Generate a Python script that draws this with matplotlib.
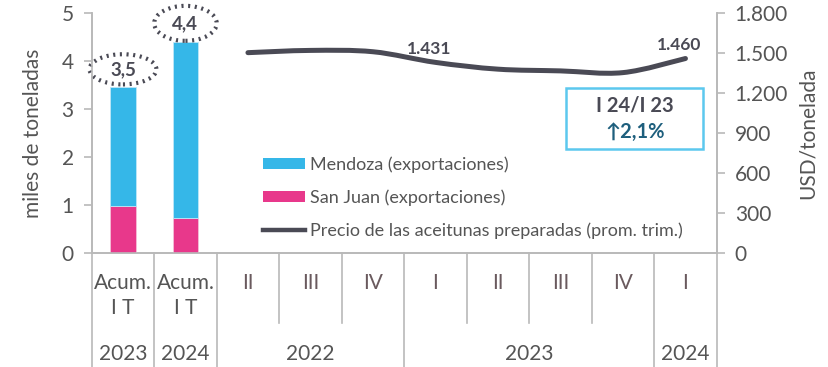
import matplotlib
matplotlib.use("Agg")
import matplotlib.pyplot as plt
from matplotlib.patches import Patch, Ellipse, Rectangle, PathPatch
from matplotlib.lines import Line2D
from matplotlib.path import Path
import matplotlib.transforms as mtransforms

# ---- data ----
categories = ["Acum.\nI T", "Acum.\nI T", "II", "III", "IV", "I", "II", "III", "IV", "I"]
years = ["2023", "2024", "2022", "2023", "2024"]
mendoza = [2.50, 3.68]          # miles de toneladas
san_juan = [0.97, 0.72]         # miles de toneladas
bar_totals = ["3,5", "4,4"]
price = [1504, 1521, 1511, 1431, 1380, 1367, 1354, 1460]   # USD/tonelada, II-22 .. I-24
price_labels = {3: "1.431", 7: "1.460"}
variation_title = "I 24/I 23"
variation_text = "↑2,1%"

# ---- style ----
plt.rcParams["font.family"] = ["Lato", "DejaVu Sans"]
C_BLUE = "#35b7e8"
C_PINK = "#e8388b"
C_LINE = "#4a4a55"
C_AXIS = "#b9b9b9"
C_TXT = "#555555"
C_BOX = "#5cc8ee"
C_TEAL = "#1e5f7d"
FS = 15

W, H = 829, 367
fig = plt.figure(figsize=(W / 100, H / 100), dpi=100)
x0, x1 = 91.7, 716.7
y0, y1 = 252.7, 13.3
ax = fig.add_axes([x0 / W, 1 - y0 / H, (x1 - x0) / W, (y0 - y1) / H])
ax2 = ax.twinx()

# stacked bars
bar_x = [0, 1]
ax.bar(bar_x, san_juan, width=0.41, color=C_PINK, edgecolor="#f3c0d8", linewidth=0.6, zorder=3)
ax.bar(bar_x, mendoza, width=0.41, bottom=san_juan, color=C_BLUE, edgecolor="#bfe6f7",
       linewidth=0.6, zorder=3)

ax.set_xlim(-0.5, 9.5)
ax.set_ylim(0, 5)
ax.set_yticks(range(0, 6))
ax.set_xticks([])
ax2.set_ylim(0, 1800)
ax2.set_yticks(range(0, 1801, 300))
ax2.set_yticklabels([f"{v:,}".replace(",", ".") for v in range(0, 1801, 300)])

for a in (ax, ax2):
    a.spines["top"].set_visible(False)
    for s in ("left", "right", "bottom"):
        a.spines[s].set_color(C_AXIS)
        a.spines[s].set_linewidth(1.2)
    a.tick_params(axis="y", direction="out", length=6, width=1.2, color=C_AXIS,
                  labelsize=FS, labelcolor=C_TXT, pad=7)
ax.set_ylabel("miles de toneladas", fontsize=FS, color=C_TXT, labelpad=13)
ax2.set_ylabel("USD/tonelada", fontsize=FS, color=C_TXT, labelpad=7)

# smooth price curve (Catmull-Rom through the quarterly points)
px = list(range(2, 2 + len(price)))
pts = list(zip(px, price))
verts = [pts[0]]
codes = [Path.MOVETO]
for i in range(len(pts) - 1):
    p0 = pts[i - 1] if i > 0 else pts[i]
    p1, p2 = pts[i], pts[i + 1]
    p3 = pts[i + 2] if i + 2 < len(pts) else pts[i + 1]
    c1 = (p1[0] + (p2[0] - p0[0]) / 6, p1[1] + (p2[1] - p0[1]) / 6)
    c2 = (p2[0] - (p3[0] - p1[0]) / 6, p2[1] - (p3[1] - p1[1]) / 6)
    verts += [c1, c2, p2]
    codes += [Path.CURVE4] * 3
ax2.add_patch(PathPatch(Path(verts, codes), facecolor="none", edgecolor=C_LINE,
                        linewidth=3.6, capstyle="round", zorder=4))
for i, lab in price_labels.items():
    ax2.text(px[i] - 0.1, price[i] + 40, lab, ha="center", va="bottom", fontsize=12.5,
             fontweight="bold", color=C_LINE, zorder=5)

# dotted ellipses with bar totals
ell_sizes = [(1.07, 0.63), (1.0, 0.73)]
ell_gap = [0.36, 0.39]
for i, (lab, (ew, eh)) in enumerate(zip(bar_totals, ell_sizes)):
    top = mendoza[i] + san_juan[i]
    yc = top + ell_gap[i]
    ax.add_patch(Ellipse((bar_x[i], yc), ew, eh, facecolor="white", edgecolor=C_LINE,
                         linestyle=(0, (0.5, 1.1)), linewidth=3.0, clip_on=False, zorder=5))
    ax.text(bar_x[i], yc, lab, ha="center", va="center", fontsize=13.5, fontweight="bold",
            color=C_LINE, zorder=6)

# variation box
ax.add_patch(Rectangle((7.09, 2.165), 2.19, 1.275, facecolor="white", edgecolor=C_BOX,
                       linewidth=1.8, zorder=5))
ax.text(8.19, 3.07, variation_title, ha="center", va="center", fontsize=14.5,
        fontweight="bold", color=C_LINE, zorder=6)
ax.text(8.19, 2.53, variation_text, ha="center", va="center", fontsize=14.5,
        fontweight="bold", color=C_TEAL, zorder=6)

# legend
handles = [Patch(facecolor=C_BLUE, edgecolor="none"),
           Patch(facecolor=C_PINK, edgecolor="none"),
           Line2D([], [], color=C_LINE, linewidth=3.2)]
labels = ["Mendoza (exportaciones)", "San Juan (exportaciones)",
          "Precio de las aceitunas preparadas (prom. trim.)"]
leg = fig.legend(handles, labels, loc="upper left", bbox_to_anchor=(256 / W, 1 - 149 / H),
                 frameon=False, fontsize=13, handlelength=2.3, handleheight=0.6,
                 handletextpad=0.3, labelspacing=0.92, borderaxespad=0)
for t in leg.get_texts():
    t.set_color(C_TXT)

# category axis: labels and separators
blend = mtransforms.blended_transform_factory(ax.transData, ax.transAxes)
ax_h = y0 - y1
def fy(pix):
    return (y0 - pix) / ax_h

for i, lab in enumerate(categories):
    if i < 2:
        ax.text(i, fy(283), "Acum.", transform=blend, ha="center", va="center",
                fontsize=FS, color=C_TXT, clip_on=False)
        ax.text(i, fy(308), "I T", transform=blend, ha="center", va="center",
                fontsize=FS, color=C_TXT, clip_on=False)
    else:
        ax.text(i, fy(283), lab, transform=blend, ha="center", va="center",
                fontsize=FS, color="#6a5a5e", clip_on=False)

year_pos = [0, 1, 3, 6.5, 9]
for yr, xp in zip(years, year_pos):
    ax.text(xp, fy(354), yr, transform=blend, ha="center", va="center",
            fontsize=FS, color=C_TXT, clip_on=False)

full_seps = [-0.5, 0.5, 1.5, 4.5, 8.5, 9.5]
short_seps = [2.5, 3.5, 5.5, 6.5, 7.5]
for s in full_seps:
    ax.plot([s, s], [0, fy(367)], transform=blend, color=C_AXIS, linewidth=1.2,
            clip_on=False, zorder=1)
for s in short_seps:
    ax.plot([s, s], [0, fy(323)], transform=blend, color=C_AXIS, linewidth=1.2,
            clip_on=False, zorder=1)

fig.savefig("out.png", dpi=100)
